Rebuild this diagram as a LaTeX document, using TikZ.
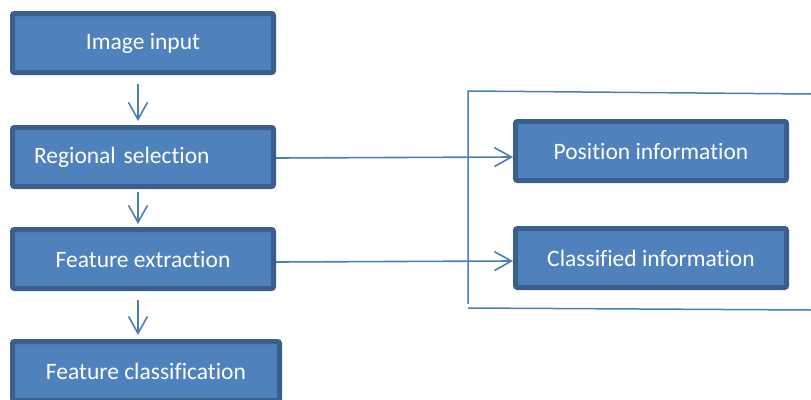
\documentclass[tikz,border=0pt]{standalone}
\usepackage{fontspec}
\setmainfont[Ligatures={NoCommon}]{Carlito}
\usetikzlibrary{arrows.meta}
\definecolor{boxfill}{HTML}{4F81BD}
\definecolor{boxedge}{HTML}{3A5F8C}
\definecolor{linecol}{HTML}{4A7EBB}
\begin{document}
\begin{tikzpicture}[x=1pt,y=-1pt,
  stepbox/.style={draw=boxedge, fill=boxfill, line width=5pt, rounded corners=2pt,
    minimum width=261pt, minimum height=59pt, inner sep=0pt,
    text=white, font=\fontsize{23.5}{28}\selectfont},
  flow/.style={draw=linecol, line width=1.6pt, -{Straight Barb[length=17pt,width=19pt,line width=1.6pt]}},
  frame/.style={draw=linecol, line width=1.5pt}]
\useasboundingbox (0,0) rectangle (811,399);
\node[stepbox] (ii) at (143,43) {Image input};
\node[stepbox, text width=218pt, align=left] (rs) at (143,157) {Regional selection};
\node[stepbox] (fe) at (143,259) {Feature extraction};
\node[stepbox, minimum width=267pt] (fc) at (146,371) {Feature classification};
\node[stepbox, minimum width=271pt] (pi) at (651,151) {Position information};
\node[stepbox, minimum width=271pt] (ci) at (651,258) {Classified information};
\draw[flow, shorten <=9pt, shorten >=4pt] (ii.south -| 138,0) -- (rs.north -| 138,0);
\draw[flow, shorten <=3pt, shorten >=3pt] (rs.south -| 138,0) -- (fe.north -| 138,0);
\draw[flow, shorten <=9pt, shorten >=4pt] (fe.south -| 138,0) -- (fc.north -| 138,0);
\draw[flow] (rs.east |- 0,158) -- (pi.west |- 0,157);
\draw[flow] (fe.east |- 0,262) -- (ci.west |- 0,261);
\coordinate (ftl) at (468,91);
\coordinate (ftr) at (811,94);
\coordinate (fbl) at (468,304);
\coordinate (bbl) at (468,308);
\coordinate (bbr) at (811,310);
\draw[frame] (ftr) -- (ftl) -- (fbl);
\draw[frame] (bbl) -- (bbr);
\end{tikzpicture}
\end{document}
